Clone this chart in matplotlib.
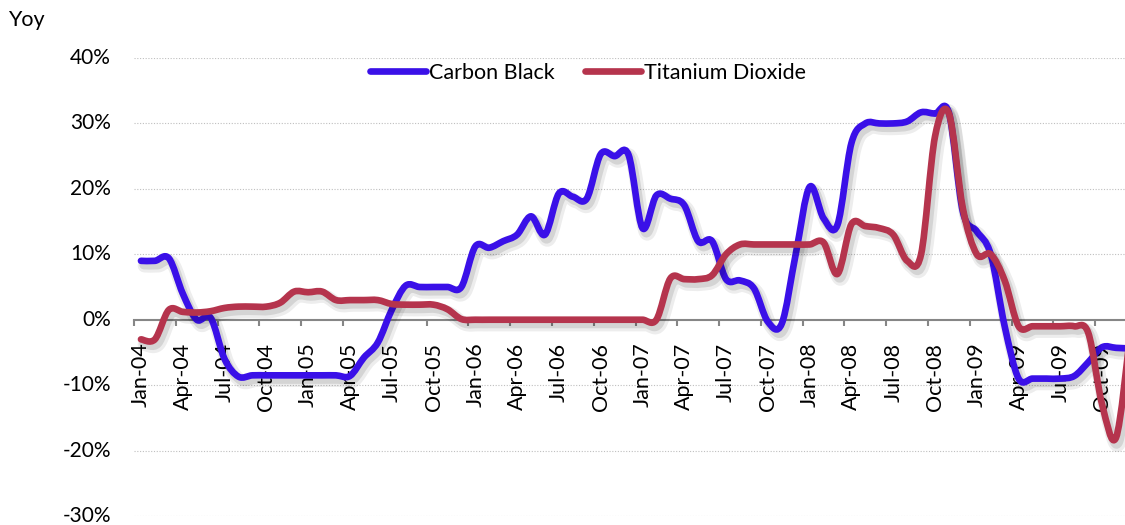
import matplotlib
matplotlib.use("Agg")
import matplotlib.pyplot as plt
import numpy as np
from matplotlib.path import Path
from matplotlib.patches import PathPatch
from matplotlib.lines import Line2D
from matplotlib.ticker import FixedLocator, FuncFormatter
from matplotlib.transforms import ScaledTranslation
import matplotlib.patheffects as pe

plt.rcParams['font.family'] = ['Lato', 'DejaVu Sans']

# Monthly year-on-year change, Jan-04 .. Dec-09 (%)
years = ["04", "05", "06", "07", "08", "09"]
month_names = ["Jan", "Feb", "Mar", "Apr", "May", "Jun",
               "Jul", "Aug", "Sep", "Oct", "Nov", "Dec"]
months = [f"{m}-{y}" for y in years for m in month_names]

carbon_black = [
    9.0, 9.0, 9.4, 4.0, 0.0, 0.3, -6.0, -8.7, -8.5, -8.5, -8.5, -8.5,
    -8.5, -8.5, -8.5, -8.6, -5.8, -3.5, 1.5, 5.2, 5.0, 5.0, 5.0, 5.0,
    11.2, 11.0, 12.0, 13.0, 15.8, 13.0, 19.3, 18.8, 18.5, 25.3, 25.0, 25.2,
    14.0, 19.0, 18.5, 17.5, 12.0, 12.0, 6.2, 6.0, 4.8, -0.3, -0.6, 10.0,
    20.3, 15.5, 14.5, 27.0, 30.0, 30.0, 30.0, 30.3, 31.7, 31.5, 31.6, 16.5,
    13.5, 10.0, -1.0, -9.0, -9.0, -9.0, -9.0, -8.6, -6.5, -4.2, -4.3, -4.4,
]

titanium_dioxide = [
    -3.0, -3.0, 1.5, 1.2, 1.1, 1.3, 1.8, 2.0, 2.0, 2.0, 2.6, 4.3,
    4.2, 4.3, 3.0, 3.0, 3.0, 3.0, 2.4, 2.3, 2.3, 2.3, 1.6, 0.1,
    0.0, 0.0, 0.0, 0.0, 0.0, 0.0, 0.0, 0.0, 0.0, 0.0, 0.0, 0.0,
    0.0, 0.0, 6.3, 6.2, 6.2, 6.8, 10.0, 11.5, 11.5, 11.5, 11.5, 11.5,
    11.5, 11.8, 7.0, 14.6, 14.3, 14.0, 13.0, 9.0, 10.0, 28.0, 31.5, 17.0,
    10.0, 10.0, 6.0, -1.0, -1.0, -1.0, -1.0, -1.0, -2.0, -13.0, -18.0, -2.5,
]

y_ticks = [-30, -20, -10, 0, 10, 20, 30, 40]

BLUE = "#3A10E8"
RED = "#B5344D"
LW = 4.8
FS = 15.5


def smooth_path(values):
    """Bezier path through the points, Excel-style smoothed line."""
    pts = np.column_stack([np.arange(len(values)), values]).astype(float)
    n = len(pts)
    verts = [pts[0]]
    codes = [Path.MOVETO]
    for i in range(n - 1):
        p0 = pts[i - 1] if i > 0 else pts[i]
        p1 = pts[i]
        p2 = pts[i + 1]
        p3 = pts[i + 2] if i + 2 < n else pts[i + 1]
        c1 = p1 + (p2 - p0) / 6.0
        c2 = p2 - (p3 - p1) / 6.0
        verts += [c1, c2, p2]
        codes += [Path.CURVE4] * 3
    return Path(verts, codes)


fig = plt.figure(figsize=(11.25, 5.25), dpi=100)
ax = fig.add_axes([134 / 1125, 9 / 525, 1003 / 1125, 458 / 525])
ax.set_xlim(-0.5, len(months) - 0.5)
ax.set_ylim(-30, 40)

shadow = [
    pe.SimpleLineShadow(offset=(2.5, -3.5), shadow_color="black", alpha=0.07, linewidth=LW + 5),
    pe.SimpleLineShadow(offset=(2.0, -3.0), shadow_color="black", alpha=0.10, linewidth=LW + 1.5),
    pe.Normal(),
]

for series, color in [(carbon_black, BLUE), (titanium_dioxide, RED)]:
    patch = PathPatch(smooth_path(series), facecolor="none", edgecolor=color,
                      linewidth=LW, capstyle="round", joinstyle="round", zorder=3)
    patch.set_path_effects(shadow)
    ax.add_patch(patch)

# Grid and axes styling
for t in y_ticks:
    if t != 0:
        ax.axhline(t, color="#BFBFBF", linewidth=0.8, linestyle=(0, (1, 1.5)), zorder=1)

for s in ["top", "right", "left"]:
    ax.spines[s].set_visible(False)
ax.spines["bottom"].set_position(("data", 0))
ax.spines["bottom"].set_color("#868686")
ax.spines["bottom"].set_linewidth(1.5)
ax.spines["bottom"].set_zorder(2)

ax.set_yticks(y_ticks)
ax.yaxis.set_major_formatter(FuncFormatter(lambda v, p: f"{int(v)}%"))
ax.tick_params(axis="y", length=0, pad=16.5, labelsize=15, labelcolor="black")

label_pos = list(range(0, len(months), 3))
ax.xaxis.set_major_locator(FixedLocator(np.arange(-0.5, len(months), 3)))
ax.xaxis.set_major_formatter(FuncFormatter(lambda v, p: ""))
ax.xaxis.set_minor_locator(FixedLocator(label_pos))
ax.xaxis.set_minor_formatter(FuncFormatter(lambda v, p: months[int(round(v))]))
ax.tick_params(axis="x", which="major", length=4.5, width=1.5, color="#868686", direction="out")
ax.tick_params(axis="x", which="minor", length=0, pad=16.5, labelsize=FS,
               labelrotation=90, labelcolor="black")

# Nudge the percentage labels up a little so the lowest one stays inside the figure
lift = ScaledTranslation(0, 2 / 100, fig.dpi_scale_trans)
for tick in ax.yaxis.get_major_ticks():
    tick.label1.set_transform(tick.label1.get_transform() + lift)

# Legend
handles = [Line2D([], [], color=BLUE, linewidth=LW, solid_capstyle="round"),
           Line2D([], [], color=RED, linewidth=LW, solid_capstyle="round")]
fig.legend(handles, ["Carbon Black", "Titanium Dioxide"], loc="center",
           bbox_to_anchor=(588 / 1125, 1 - 73 / 525), ncol=2, frameon=False,
           fontsize=FS, handlelength=2.6, handletextpad=0.15, columnspacing=1.4,
           borderpad=0)

fig.text(8 / 1125, 1 - 20 / 525, "Yoy", fontsize=FS, va="center", ha="left")

fig.savefig("out.png", dpi=100)
